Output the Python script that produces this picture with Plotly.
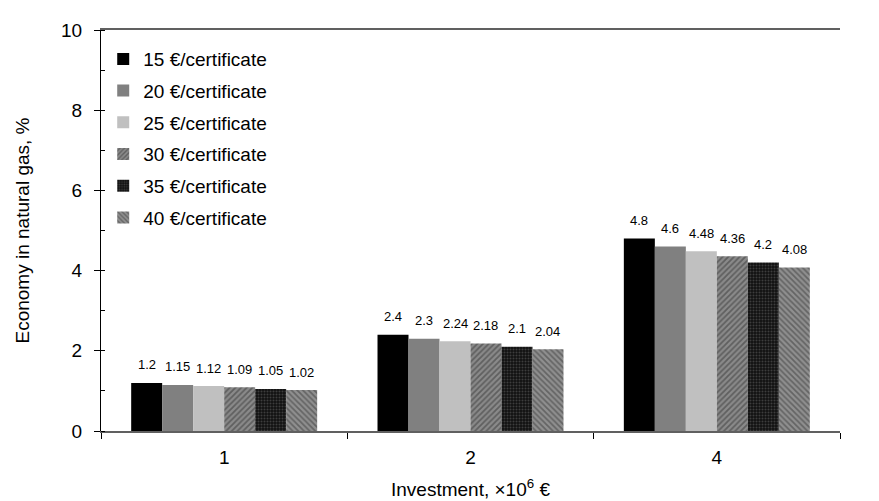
import plotly.graph_objects as go

categories = ["1", "2", "4"]
series_names = ["15 €/certificate", "20 €/certificate", "25 €/certificate",
                "30 €/certificate", "35 €/certificate", "40 €/certificate"]
values_15 = [1.2, 2.4, 4.8]
values_20 = [1.15, 2.3, 4.6]
values_25 = [1.12, 2.24, 4.48]
values_30 = [1.09, 2.18, 4.36]
values_35 = [1.05, 2.1, 4.2]
values_40 = [1.02, 2.04, 4.08]
all_values = [values_15, values_20, values_25, values_30, values_35, values_40]
y_ticks = [0, 2, 4, 6, 8, 10]

FONT = "Arial, Liberation Sans, sans-serif"
W, H = 879, 501
ML, MR, MT, MB = 93, 47, 18, 78
BARGAP = 0.245

styles = [
    dict(color="#000000"),
    dict(color="#808080"),
    dict(color="#c0c0c0"),
    dict(color="#808080", pattern=dict(shape="/", fgcolor="#333333", bgcolor="#8a8a8a", size=4, solidity=0.45)),
    dict(color="#111111", pattern=dict(shape=".", fgcolor="#6a6a6a", bgcolor="#111111", size=3, solidity=0.35)),
    dict(color="#808080", pattern=dict(shape="\\", fgcolor="#3a3a3a", bgcolor="#8f8f8f", size=4, solidity=0.45)),
]

fig = go.Figure()
n_series = len(all_values)
bar_px = (W - ML - MR) / len(categories) * (1 - BARGAP) / n_series
annotations = []
for i, (name, vals) in enumerate(zip(series_names, all_values)):
    st = styles[i]
    marker = dict(color=st["color"], line=dict(width=0))
    if "pattern" in st:
        marker["pattern"] = st["pattern"]
    fig.add_trace(go.Bar(
        x=categories, y=vals, name=name, marker=marker,
        legendgroup=f"g{i}",
    ))
    for ci, v in enumerate(vals):
        annotations.append(dict(
            x=ci, y=v, xref="x", yref="y", text=f"{v:g}", showarrow=False,
            xanchor="center", yanchor="middle",
            xshift=(i - (n_series - 1) / 2) * bar_px, yshift=18,
            font=dict(family=FONT, size=13, color="#000"),
        ))

fig.update_layout(
    width=W, height=H,
    margin=dict(l=ML, r=MR, t=MT, b=MB),
    paper_bgcolor="white", plot_bgcolor="white",
    barmode="group", bargap=BARGAP, bargroupgap=0,
    font=dict(family=FONT, size=19, color="#000"),
    showlegend=True,
    annotations=annotations,
    legend=dict(x=0.003, y=0.975, xanchor="left", yanchor="top",
                bgcolor="rgba(0,0,0,0)", font=dict(family=FONT, size=19, color="#000"),
                tracegroupgap=4, traceorder="grouped", itemwidth=30),
    xaxis=dict(
        type="category", range=[-0.5, 2.5],
        showline=True, linecolor="#606060", linewidth=2, mirror=True,
        ticks="outside", tickson="boundaries", ticklen=6, tickcolor="#000",
        ticklabelstandoff=8,
        showgrid=False, zeroline=False,
        title=dict(text="Investment, ×10<sup>6</sup> €", font=dict(size=19), standoff=16),
    ),
    yaxis=dict(
        range=[0, 10], tickvals=y_ticks,
        showline=True, linecolor="#000", linewidth=1,
        ticks="outside", ticklen=6, tickcolor="#000",
        ticklabelstandoff=8,
        minor=dict(dtick=1, ticks="inside", ticklen=4, tickcolor="#000", showgrid=False),
        showgrid=False, zeroline=False,
        title=dict(text="Economy in natural gas, %", font=dict(size=19), standoff=26),
    ),
)

fig.write_html("out.html")
